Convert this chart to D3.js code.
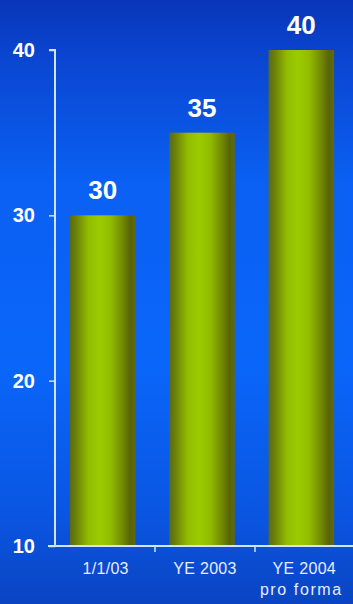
<!DOCTYPE html>
<html>
<head>
<meta charset="utf-8">
<script src="https://cdn.jsdelivr.net/npm/d3@7"></script>
<style>
  html, body { margin: 0; padding: 0; background: #0a5ff0; }
  svg { display: block; }
</style>
</head>
<body>
<svg id="chart" width="353" height="604"></svg>
<script>
// Chart data
const categories = ["1/1/03", "YE 2003", "YE 2004"];
const subLabels = ["", "", "pro forma"];
const values = [30, 35, 40];
const yTicks = [10, 20, 30, 40];

const W = 353, H = 604;
const margin = { left: 55, right: 4, top: 50, bottom: 58 };

const svg = d3.select("#chart");
const defs = svg.append("defs");

// Background: vertical blue gradient
const bg = defs.append("linearGradient").attr("id", "bg")
  .attr("x1", 0).attr("y1", 0).attr("x2", 0).attr("y2", 1);
[[0, "#0836b8"], [0.1, "#0a46d2"], [0.3, "#0a60f2"], [0.6, "#0a66fa"], [0.85, "#0a56e2"], [1, "#0a44c2"]]
  .forEach(([o, c]) => bg.append("stop").attr("offset", o).attr("stop-color", c));
svg.append("rect").attr("width", W).attr("height", H).attr("fill", "url(#bg)");

// Cylinder-like horizontal shading for bars
const barG = defs.append("linearGradient").attr("id", "bar")
  .attr("x1", 0).attr("y1", 0).attr("x2", 1).attr("y2", 0);
[[0, "#5a6a14"], [0.1, "#6c8208"], [0.28, "#92bc00"], [0.45, "#9ccb00"], [0.62, "#92bc00"], [0.8, "#728a04"], [0.92, "#596408"], [1, "#5e6a10"]]
  .forEach(([o, c]) => barG.append("stop").attr("offset", o).attr("stop-color", c));

const x = d3.scaleBand().domain(categories)
  .range([margin.left, W - margin.right]).paddingInner(0.34).paddingOuter(0.15);
// Evenly divided axis slots, used for the category tick marks
const slots = d3.scaleBand().domain(categories).range([margin.left, W + 2]);
const y = d3.scaleLinear().domain([10, 40]).range([H - margin.bottom, margin.top]);

// Bars
svg.append("g").selectAll("rect").data(values).join("rect")
  .attr("x", (d, i) => x(categories[i]))
  .attr("y", d => y(d))
  .attr("width", x.bandwidth())
  .attr("height", d => y(10) - y(d))
  .attr("fill", "url(#bar)");

// Value labels
svg.append("g").selectAll("text").data(values).join("text")
  .attr("x", (d, i) => x(categories[i]) + x.bandwidth() / 2)
  .attr("y", d => y(d) - 16)
  .attr("text-anchor", "middle")
  .attr("fill", "#ffffff")
  .attr("font-family", "Arial, 'Liberation Sans', sans-serif")
  .attr("font-weight", "bold")
  .attr("font-size", 26)
  .text(d => d);

const axisColor = "#cfe4ff";

// Y axis
const yAxis = svg.append("g").attr("transform", `translate(${margin.left},0)`)
  .call(d3.axisLeft(y).tickValues(yTicks).tickSize(6).tickPadding(14).tickFormat(d3.format("d")));
yAxis.select(".domain").attr("stroke", axisColor).attr("stroke-width", 2)
  .attr("d", `M-6,${y(40)}H0V${y(10)}`);
yAxis.selectAll(".tick line").attr("stroke", axisColor).attr("stroke-width", 1.5);
yAxis.selectAll(".tick text")
  .attr("fill", "#ffffff")
  .attr("font-family", "Arial, 'Liberation Sans', sans-serif")
  .attr("font-weight", "bold")
  .attr("font-size", 20);

// X axis: ticks sit on slot boundaries
const bounds = [categories[1], categories[2]].map(c => slots(c));
const xAxisG = svg.append("g").attr("transform", `translate(0,${y(10)})`);
xAxisG.append("line")
  .attr("x1", margin.left - 7).attr("x2", W)
  .attr("stroke", axisColor).attr("stroke-width", 2);
xAxisG.selectAll(".xt").data(bounds).join("line").attr("class", "xt")
  .attr("x1", d => d).attr("x2", d => d).attr("y1", 0).attr("y2", 6)
  .attr("stroke", axisColor).attr("stroke-width", 1.5);

// Category labels
const labels = svg.append("g")
  .attr("fill", "#e6eeff")
  .attr("font-family", "Arial, 'Liberation Sans', sans-serif")
  .attr("font-size", 16)
  .attr("text-anchor", "middle");
labels.selectAll(".cat").data(categories).join("text").attr("class", "cat")
  .attr("x", c => x(c) + x.bandwidth() / 2 + 3)
  .attr("y", y(10) + 28)
  .attr("letter-spacing", 0.3)
  .text(c => c);
labels.selectAll(".sub").data(subLabels).join("text").attr("class", "sub")
  .attr("x", (s, i) => x(categories[i]) + x.bandwidth() / 2)
  .attr("y", y(10) + 49)
  .attr("letter-spacing", 1.6)
  .text(s => s);
</script>
</body>
</html>
